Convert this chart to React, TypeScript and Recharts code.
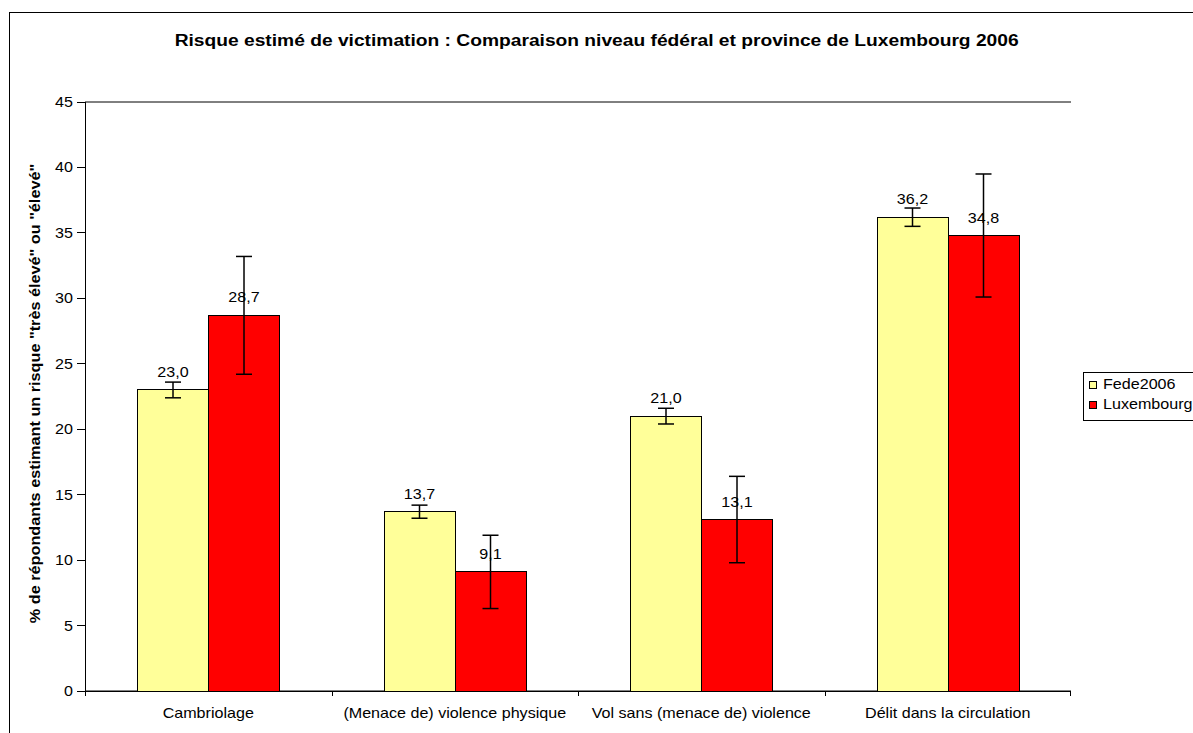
import React from 'react';
import { BarChart, Bar, XAxis, YAxis, CartesianGrid, ErrorBar, LabelList, Legend } from 'recharts';

const categories = [
  'Cambriolage',
  '(Menace de) violence physique',
  'Vol sans (menace de) violence',
  'Délit dans la circulation',
];
const fede2006 = [23.0, 13.7, 21.0, 36.2];
const luxembourg = [28.7, 9.1, 13.1, 34.8];
const fedeErr = [0.6, 0.5, 0.6, 0.7];
const luxErr = [4.5, 2.8, 3.3, 4.7];
const yTicks = [0, 5, 10, 15, 20, 25, 30, 35, 40, 45];

const seriesNames = ['Fede2006', 'Luxembourg'];
const seriesColors = ['#FFFF99', '#FF0000'];

const data = categories.map((c, i) => ({
  cat: c,
  fede: fede2006[i],
  lux: luxembourg[i],
  fedeErr: fedeErr[i],
  luxErr: luxErr[i],
}));

const FONT = "Arial, 'Liberation Sans', sans-serif";
const FS = 14;
const SX = 1.15;
const W = 1193;
const H = 733;
const M = { top: 102, right: 122, bottom: 0, left: 40 };
const YW = 45;
const PLOT_LEFT = M.left + YW;
const PLOT_W = W - M.right - PLOT_LEFT;
const BAND = PLOT_W / categories.length;

const fmt = (v: number) => v.toFixed(1).replace('.', ',');

const YTick = (props: any) => {
  const { x, y, payload } = props;
  return (
    <text
      transform={`translate(${x},${y}) scale(${SX},1)`}
      textAnchor="end"
      dy="0.355em"
      fontSize={FS}
      fontFamily={FONT}
      fill="#000"
    >
      {payload.value}
    </text>
  );
};

const XTick = (props: any) => {
  const { x, y, payload, index } = props;
  const last = index === categories.length - 1;
  const lx = Math.round(x - BAND / 2) + 0.5;
  const rx = Math.round(x + BAND / 2) - 0.5;
  return (
    <g>
      <line x1={lx} x2={lx} y1={y} y2={y + 5} stroke="#000" shapeRendering="crispEdges" />
      {last && <line x1={rx} x2={rx} y1={y} y2={y + 5} stroke="#000" shapeRendering="crispEdges" />}
      <text
        transform={`translate(${x},${y + 27}) scale(${SX},1)`}
        textAnchor="middle"
        fontSize={FS}
        fontFamily={FONT}
        fill="#000"
      >
        {payload.value}
      </text>
    </g>
  );
};

const ValueLabel = (props: any) => {
  const { x, y, width, value } = props;
  return (
    <text
      transform={`translate(${x + width / 2},${y - 13}) scale(${SX},1)`}
      textAnchor="middle"
      fontSize={FS}
      fontFamily={FONT}
      fill="#000"
    >
      {fmt(value)}
    </text>
  );
};

const YLabel = () => (
  <text
    transform={`translate(40,393.5) rotate(-90) scale(1.16,1)`}
    textAnchor="middle"
    fontSize={14}
    fontWeight="bold"
    fontFamily={FONT}
    fill="#000"
  >
    % de répondants estimant un risque "très élevé" ou "élevé"
  </text>
);

const LegendBox = () => (
  <div
    style={{
      position: 'relative',
      width: 150,
      height: 49,
      border: '1px solid #000',
      boxSizing: 'border-box',
      background: '#fff',
      fontFamily: FONT,
      fontSize: FS,
      lineHeight: '14px',
      color: '#000',
    }}
  >
    {seriesNames.map((n, i) => (
      <React.Fragment key={n}>
        <div
          style={{
            position: 'absolute',
            left: 5,
            top: 8 + i * 20,
            width: 8,
            height: 8,
            boxSizing: 'border-box',
            border: '1px solid #000',
            background: seriesColors[i],
          }}
        />
        <span
          style={{
            position: 'absolute',
            left: 19,
            top: 4 + i * 20,
            whiteSpace: 'nowrap',
            transform: `scaleX(${SX})`,
            transformOrigin: 'left center',
          }}
        >
          {n}
        </span>
      </React.Fragment>
    ))}
  </div>
);

export default function App() {
  return (
    <div
      style={{
        position: 'fixed',
        left: 0,
        top: 0,
        width: W,
        height: H,
        overflow: 'hidden',
        background: '#fff',
        fontFamily: FONT,
      }}
    >
      <div
        style={{
          position: 'absolute',
          left: 9,
          top: 12,
          width: 2000,
          height: 2000,
          border: '1px solid #000',
        }}
      />
      <div
        style={{
          position: 'absolute',
          left: 0,
          top: 33,
          width: W,
          textAlign: 'center',
          fontSize: 16,
          fontWeight: 'bold',
          lineHeight: '16px',
          color: '#000',
          whiteSpace: 'nowrap',
        }}
      >
        <span style={{ display: 'inline-block', transform: 'scaleX(1.2)', transformOrigin: 'center' }}>
          Risque estimé de victimation : Comparaison niveau fédéral et province de Luxembourg 2006
        </span>
      </div>
      <div style={{ position: 'absolute', left: 0, top: 0 }}>
        <BarChart
          width={W}
          height={H}
          data={data}
          margin={M}
          barCategoryGap="21.3%"
          barGap={0}
        >
          <CartesianGrid
            horizontal={{ shapeRendering: 'crispEdges' } as any}
            vertical={false}
            stroke="#000"
          />
          <XAxis
            dataKey="cat"
            height={42}
            tickSize={0}
            tickMargin={0}
            tickLine={false}
            axisLine={{ stroke: '#000', shapeRendering: 'crispEdges' } as any}
            tick={<XTick />}
            interval={0}
          />
          <YAxis
            yAxisId="left"
            width={YW}
            domain={[0, 45]}
            ticks={yTicks}
            tickSize={8}
            tickMargin={4}
            tickLine={{ stroke: '#000', shapeRendering: 'crispEdges' } as any}
            axisLine={{ stroke: '#000', shapeRendering: 'crispEdges' } as any}
            tick={<YTick />}
            interval={0}
            label={<YLabel />}
          />
          <YAxis
            yAxisId="right"
            orientation="right"
            width={0}
            domain={[0, 45]}
            tick={false}
            tickLine={false}
            axisLine={{ stroke: '#000', strokeWidth: 1.5, shapeRendering: 'crispEdges' } as any}
          />
          <Legend
            layout="vertical"
            align="center"
            verticalAlign="middle"
            content={<LegendBox />}
            wrapperStyle={{ position: 'absolute', left: 1083, top: 372, width: 150, height: 49 }}
          />
          <Bar
            yAxisId="left"
            dataKey="fede"
            name={seriesNames[0]}
            fill={seriesColors[0]}
            stroke="#000"
            strokeWidth={1}
            shapeRendering="crispEdges"
            isAnimationActive={false}
          >
            <LabelList dataKey="fede" content={<ValueLabel />} />
            <ErrorBar dataKey="fedeErr" width={8} stroke="#000" strokeWidth={1.5} direction="y" />
          </Bar>
          <Bar
            yAxisId="left"
            dataKey="lux"
            name={seriesNames[1]}
            fill={seriesColors[1]}
            stroke="#000"
            strokeWidth={1}
            shapeRendering="crispEdges"
            isAnimationActive={false}
          >
            <LabelList dataKey="lux" content={<ValueLabel />} />
            <ErrorBar dataKey="luxErr" width={8} stroke="#000" strokeWidth={1.5} direction="y" />
          </Bar>
        </BarChart>
      </div>
    </div>
  );
}
